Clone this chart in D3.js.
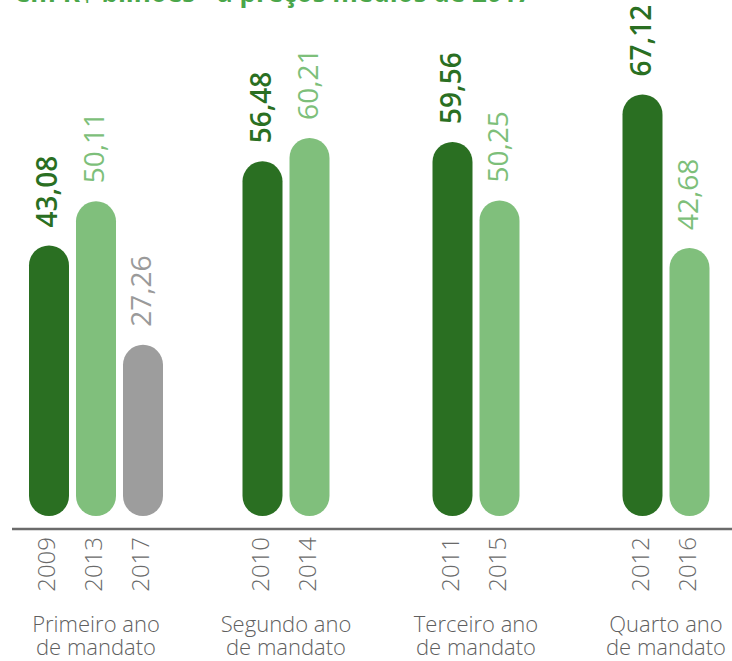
<!DOCTYPE html>
<html>
<head>
    <meta charset="UTF-8">
    <title>Gastos por ano de mandato</title>
    <script src="https://d3js.org/d3.v7.min.js"></script>
    <style>
        body { margin: 0; padding: 0; background: #fff; font-family: "Open Sans", "DejaVu Sans", sans-serif; }
        svg { display: block; }
        .title { font-weight: 700; fill: #4aa64a; }
        .year { font-weight: 300; fill: #6a6a6a; }
        .group-label { font-weight: 300; fill: #5f5f5f; }
    </style>
</head>
<body>
    <svg id="chart" width="732" height="661"></svg>
    <script>
        // dados
        const groupLines = [
            ["Primeiro ano", "de mandato"],
            ["Segundo ano", "de mandato"],
            ["Terceiro ano", "de mandato"],
            ["Quarto ano", "de mandato"]
        ];
        const yearLabels = [
            ["2009", "2013", "2017"],
            ["2010", "2014"],
            ["2011", "2015"],
            ["2012", "2016"]
        ];
        const values = [
            [43.08, 50.11, 27.26],
            [56.48, 60.21],
            [59.56, 50.25],
            [67.12, 42.68]
        ];
        const titleText = "em R$ bilhões - a preços médios de 2017";

        // cores: mandato 1, mandato 2, mandato 3
        const barColors = ["#2a6f22", "#80bf7c", "#9d9d9d"];
        const labelColors = ["#2a6f22", "#7dbf7a", "#9a9a9a"];

        const svg = d3.select("#chart");
        const baseY = 516;
        const barW = 40;
        const innerStep = 47;

        const x = d3.scalePoint()
            .domain(d3.range(groupLines.length))
            .range([96, 666]);

        const y = d3.scaleLinear()
            .domain([0, 70])
            .range([baseY, baseY - 70 * 6.28]);

        const fmt = d3.formatLocale({ decimal: ",", thousands: ".", grouping: [3], currency: ["R$", ""] }).format(".2f");

        // título (cortado no topo, como no original)
        svg.append("text")
            .attr("class", "title")
            .attr("x", 15)
            .attr("y", 2)
            .attr("font-size", 26)
            .text(titleText);

        // montar lista de barras
        const bars = [];
        values.forEach((vals, g) => {
            vals.forEach((v, i) => {
                const cx = x(g) + (i - (vals.length - 1) / 2) * innerStep;
                bars.push({ g: g, i: i, v: v, cx: cx, year: yearLabels[g][i] });
            });
        });

        // barras arredondadas
        svg.append("g")
            .selectAll("rect")
            .data(bars)
            .join("rect")
            .attr("x", d => d.cx - barW / 2)
            .attr("y", d => y(d.v))
            .attr("width", barW)
            .attr("height", d => baseY - y(d.v))
            .attr("rx", barW / 2)
            .attr("fill", d => barColors[d.i]);

        // valores
        svg.append("g")
            .selectAll("text")
            .data(bars)
            .join("text")
            .attr("transform", d => `translate(${d.cx + 8},${y(d.v) - 18}) rotate(-90)`)
            .attr("font-size", 28)
            .attr("font-weight", d => d.i === 0 ? 600 : 400)
            .attr("fill", d => labelColors[d.i])
            .text(d => fmt(d.v));

        // linha de base
        svg.append("line")
            .attr("x1", 12)
            .attr("x2", 732)
            .attr("y1", 529)
            .attr("y2", 529)
            .attr("stroke", "#6b6b6b")
            .attr("stroke-width", 2.5);

        // anos
        svg.append("g")
            .selectAll("text")
            .data(bars)
            .join("text")
            .attr("class", "year")
            .attr("transform", d => `translate(${d.cx + 6},537) rotate(-90)`)
            .attr("text-anchor", "end")
            .attr("font-size", 24)
            .text(d => d.year);

        // rótulos dos grupos
        const gl = svg.append("g")
            .selectAll("text")
            .data(groupLines)
            .join("text")
            .attr("class", "group-label")
            .attr("text-anchor", "middle")
            .attr("font-size", 22);

        gl.selectAll("tspan")
            .data((d, g) => d.map(line => ({ line: line, g: g })))
            .join("tspan")
            .attr("x", d => x(d.g))
            .attr("y", (d, k) => 632 + k * 23)
            .text(d => d.line);
    </script>
</body>
</html>
